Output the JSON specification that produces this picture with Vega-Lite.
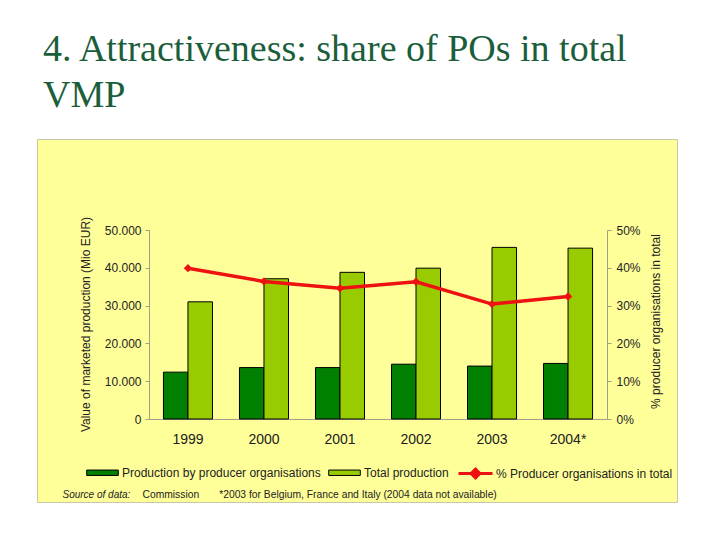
{
  "$schema": "https://vega.github.io/schema/vega-lite/v6.json",
  "width": 640,
  "height": 363,
  "autosize": "none",
  "padding": {"left": 37, "top": 139, "right": 43, "bottom": 38},
  "background": "white",
  "config": {
    "view": {"fill": "#ffff99", "stroke": "#c8c8a8", "strokeWidth": 1},
    "font": "Liberation Sans",
    "axis": {
      "domainColor": "#a0a088",
      "tickColor": "#a0a088",
      "labelFont": "Liberation Sans",
      "labelColor": "#222222",
      "titleFont": "Liberation Sans",
      "titleFontWeight": "normal",
      "titleColor": "#222222",
      "grid": false
    },
    "legend": {"labelFont": "Liberation Sans", "labelColor": "#222222", "labelLimit": 0}
  },
  "title": {
    "text": ["4. Attractiveness: share of POs in total", "VMP"],
    "font": "Liberation Serif",
    "fontSize": 38,
    "fontWeight": "normal",
    "color": "#1b5e3b",
    "anchor": "start",
    "frame": "group",
    "baseline": "alphabetic",
    "lineHeight": 46,
    "dx": 6,
    "dy": 83,
    "offset": 77
  },
  "datasets": {
    "bars": [
      {"year": "1999", "series": "Production by producer organisations", "value": 12400},
      {"year": "1999", "series": "Total production", "value": 31000},
      {"year": "2000", "series": "Production by producer organisations", "value": 13600},
      {"year": "2000", "series": "Total production", "value": 37100},
      {"year": "2001", "series": "Production by producer organisations", "value": 13600},
      {"year": "2001", "series": "Total production", "value": 38800},
      {"year": "2002", "series": "Production by producer organisations", "value": 14500},
      {"year": "2002", "series": "Total production", "value": 39900},
      {"year": "2003", "series": "Production by producer organisations", "value": 14000},
      {"year": "2003", "series": "Total production", "value": 45400},
      {"year": "2004*", "series": "Production by producer organisations", "value": 14700},
      {"year": "2004*", "series": "Total production", "value": 45200}
    ],
    "line": [
      {"year": "1999", "series": "% Producer organisations in total", "pct": 0.399},
      {"year": "2000", "series": "% Producer organisations in total", "pct": 0.364},
      {"year": "2001", "series": "% Producer organisations in total", "pct": 0.346},
      {"year": "2002", "series": "% Producer organisations in total", "pct": 0.363},
      {"year": "2003", "series": "% Producer organisations in total", "pct": 0.304},
      {"year": "2004*", "series": "% Producer organisations in total", "pct": 0.324}
    ]
  },
  "layer": [
    {
      "data": {"name": "bars"},
      "mark": {"type": "bar", "stroke": "#000000", "strokeWidth": 1},
      "encoding": {
        "x": {
          "field": "year", "type": "nominal", "sort": null,
          "scale": {"range": [112, 570], "paddingInner": 0.355, "paddingOuter": 0.19},
          "axis": {
            "orient": "bottom", "offset": -83, "labelAngle": 0, "labelFontSize": 14,
            "ticks": false, "labelPadding": 13,
            "title": "Source of data:", "titleFontStyle": "italic", "titleFontSize": 10,
            "titleX": 25, "titleY": 75, "titleAlign": "left", "titleBaseline": "middle"
          }
        },
        "xOffset": {
          "field": "series", "type": "nominal",
          "sort": ["Production by producer organisations", "Total production"],
          "scale": {"paddingInner": 0, "paddingOuter": 0}
        },
        "y": {
          "field": "value", "type": "quantitative",
          "scale": {"domain": [0, 50000], "range": [280, 91], "nice": false},
          "axis": {
            "orient": "left", "offset": -112,
            "values": [0, 10000, 20000, 30000, 40000, 50000],
            "labelExpr": "replace(format(datum.value, ','), ',', '.')",
            "tickSize": 4, "labelPadding": 4, "labelFontSize": 12,
            "title": "Value of marketed production (Mio EUR)", "titleFontSize": 12,
            "titleX": -64, "titleY": 185, "titleBaseline": "middle"
          }
        },
        "fill": {
          "field": "series", "type": "nominal",
          "scale": {
            "domain": ["Production by producer organisations", "Total production"],
            "range": ["#007f00", "#99cc00"]
          },
          "legend": {
            "orient": "none", "legendX": 49, "legendY": 317, "direction": "horizontal",
            "title": null,
            "symbolType": "M-1,-0.17H1V0.17H-1Z", "symbolSize": 1000,
            "symbolStrokeColor": "#000000", "symbolStrokeWidth": 1, "symbolOpacity": 1,
            "labelFontSize": 12, "labelOffset": 3, "columnPadding": 5, "labelLimit": 0
          }
        }
      }
    },
    {
      "data": {"name": "line"},
      "encoding": {
        "x": {
          "field": "year", "type": "nominal", "sort": null,
          "scale": {"range": [112, 570], "paddingInner": 0.355, "paddingOuter": 0.19},
          "axis": {
            "orient": "top", "offset": -300, "labels": false, "ticks": false, "domain": false,
            "title": "Commission\u00a0\u00a0\u00a0\u00a0\u00a0\u00a0\u00a0*2003 for Belgium, France and Italy (2004 data not available)",
            "titleFontSize": 10.3, "titleX": 105, "titleY": 55, "titleAlign": "left", "titleBaseline": "middle"
          }
        },
        "y": {
          "field": "pct", "type": "quantitative",
          "scale": {"domain": [0, 0.5], "range": [280, 91], "nice": false},
          "axis": {
            "orient": "right", "offset": -70,
            "values": [0, 0.1, 0.2, 0.3, 0.4, 0.5], "format": ".0%",
            "tickSize": 4, "labelPadding": 5, "labelFontSize": 12,
            "title": "% producer organisations in total", "titleFontSize": 12,
            "titleAngle": -90, "titleX": 48, "titleY": 182, "titleBaseline": "middle"
          }
        }
      },
      "layer": [
        {
          "mark": {"type": "line", "strokeWidth": 3.5},
          "encoding": {
            "stroke": {
              "field": "series", "type": "nominal",
              "scale": {"domain": ["% Producer organisations in total"], "range": ["#ee1111"]},
              "legend": {
                "orient": "none", "legendX": 420, "legendY": 316, "direction": "horizontal",
                "title": null,
                "symbolType": "M-1,0H1M0,-0.26L0.26,0L0,0.26L-0.26,0Z", "symbolSize": 1156,
                "symbolStrokeWidth": 3, "symbolFillColor": "#ee1111",
                "labelFontSize": 12, "labelOffset": 2, "labelLimit": 0,
                "encode": {"symbols": {"update": {"fill": {"value": "#ee1111"}, "stroke": {"value": "#ee1111"}}}}
              }
            }
          }
        },
        {
          "mark": {"type": "point", "shape": "diamond", "filled": true, "size": 70, "color": "#ee1111", "opacity": 1}
        }
      ]
    }
  ],
  "resolve": {
    "scale": {"y": "independent"},
    "axis": {"x": "independent", "y": "independent"}
  }
}
